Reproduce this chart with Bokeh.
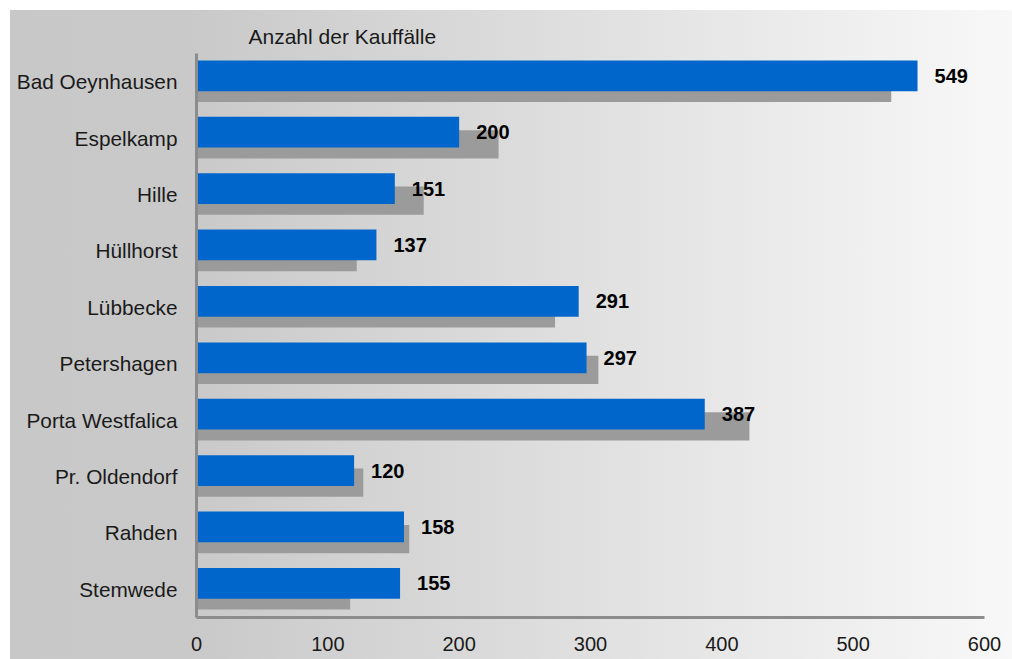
from bokeh.plotting import figure
from bokeh.models import ColumnDataSource, FactorRange, FixedTicker
from bokeh.transform import dodge
from bokeh.core.properties import value
from bokeh.embed import file_html
from bokeh.resources import INLINE

# ---- data ----
cats = ["Bad Oeynhausen", "Espelkamp", "Hille", "Hüllhorst", "Lübbecke",
        "Petershagen", "Porta Westfalica", "Pr. Oldendorf", "Rahden", "Stemwede"]
current = [549, 200, 151, 137, 291, 297, 387, 120, 158, 155]
previous = [529, 230, 173, 122, 273, 306, 421, 127, 162, 117]
x_ticks = [0, 100, 200, 300, 400, 500, 600]
title_text = "Anzahl der Kauffälle"

FONT = "Liberation Sans"
BLUE = "#0066cc"
GREY = "#9b9b9b"
AXIS = "#8c8c8c"

src = ColumnDataSource(dict(cat=cats, cur=current, prev=previous,
                            lbl=[str(v) for v in current]))

p = figure(width=1012, height=659, output_backend="svg", toolbar_location=None,
           x_range=(0, 600), y_range=FactorRange(factors=cats[::-1]),
           min_border_left=196, min_border_right=28,
           min_border_top=53, min_border_bottom=42)

p.background_fill_color = None
p.border_fill_color = None
p.outline_line_color = None
p.styles = {"background": "linear-gradient(to right, #c8c8c8 0%, #c9c9c9 18%, #f8f8f8 100%) "
                          "10px 10px / calc(100% - 10px) calc(100% - 10px) no-repeat, #ffffff"}

p.title.text = title_text
p.title.text_font = FONT
p.title.text_font_size = "21px"
p.title.text_font_style = "normal"
p.title.text_color = "#1a1a1a"
p.title.align = "left"
p.title.offset = 52
p.title.standoff = 12

p.xgrid.grid_line_color = None
p.ygrid.grid_line_color = None

# previous-year bars (grey, behind, offset down)
p.hbar(y=dodge("cat", -0.11, range=p.y_range), left=0, right="prev", height=0.5,
       source=src, fill_color=GREY, line_color=None)
# current-year bars (blue)
p.hbar(y=dodge("cat", 0.105, range=p.y_range), left=0, right="cur", height=0.545,
       source=src, fill_color=BLUE, line_color=None)
# value labels
p.text(x="cur", y=dodge("cat", 0.105, range=p.y_range), text="lbl", source=src,
       x_offset=17, text_align="left", text_baseline="middle",
       text_font=value(FONT), text_font_size="20px", text_font_style="bold",
       text_color="#000000")

# axes
for ax in (p.xaxis[0], p.yaxis[0]):
    ax.axis_line_color = AXIS
    ax.axis_line_width = 3
    ax.major_tick_line_color = None
    ax.minor_tick_line_color = None
    ax.major_label_text_font = FONT
    ax.major_label_text_color = "#1a1a1a"

p.xaxis.major_label_text_font_size = "20px"
p.yaxis.major_label_text_font_size = "20.8px"
p.xaxis.ticker = FixedTicker(ticks=x_ticks)
p.xaxis.major_label_standoff = 13
p.yaxis.major_label_standoff = 13

open("out.html", "w").write(file_html(p, INLINE))
